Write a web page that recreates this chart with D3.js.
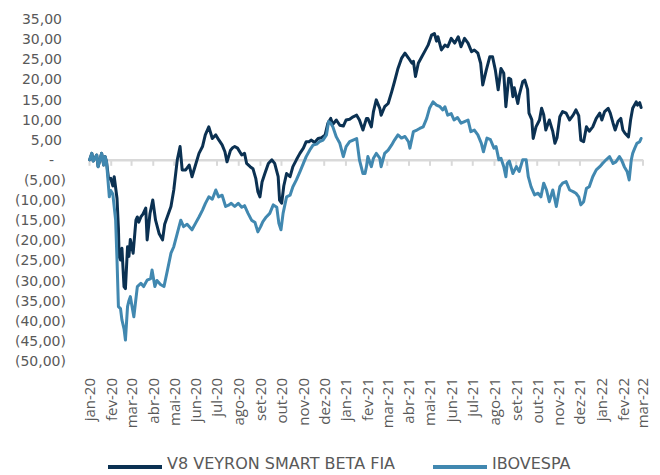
<!DOCTYPE html>
<html><head><meta charset="utf-8">
<script src="https://cdn.jsdelivr.net/npm/d3@7"></script>
<style>body{margin:0;background:#fff} svg{display:block}</style>
</head><body>
<svg id="c" width="660" height="475"></svg>
<script>
const monthLabels = ["jan","fev","mar","abr","mai","jun","jul","ago","set","out","nov","dez"];
const yTickValues = [35,30,25,20,15,10,5,0,-5,-10,-15,-20,-25,-30,-35,-40,-45,-50];
const seriesNames = ["V8 VEYRON SMART BETA FIA","IBOVESPA"];
const seriesColors = ["#0b3152","#4188b0"];

const v8Dates = ["2020-01-02","2020-01-05","2020-01-07","2020-01-12","2020-01-14","2020-01-17","2020-01-19","2020-01-22","2020-01-24","2020-01-26","2020-01-29","2020-02-01","2020-02-04","2020-02-06","2020-02-10","2020-02-12","2020-02-13","2020-02-15","2020-02-17","2020-02-20","2020-02-22","2020-02-25","2020-02-27","2020-02-29","2020-03-04","2020-03-08","2020-03-10","2020-03-12","2020-03-15","2020-03-18","2020-03-22","2020-03-24","2020-03-28","2020-04-01","2020-04-05","2020-04-10","2020-04-15","2020-04-18","2020-04-20","2020-04-27","2020-05-01","2020-05-06","2020-05-10","2020-05-13","2020-05-18","2020-05-23","2020-05-27","2020-06-01","2020-06-06","2020-06-11","2020-06-15","2020-06-20","2020-06-25","2020-06-30","2020-07-04","2020-07-09","2020-07-13","2020-07-16","2020-07-21","2020-07-24","2020-07-27","2020-07-31","2020-08-06","2020-08-10","2020-08-13","2020-08-18","2020-08-22","2020-08-26","2020-08-29","2020-09-01","2020-09-04","2020-09-08","2020-09-13","2020-09-18","2020-09-22","2020-09-27","2020-09-29","2020-10-02","2020-10-05","2020-10-09","2020-10-14","2020-10-18","2020-10-23","2020-10-28","2020-11-02","2020-11-06","2020-11-10","2020-11-13","2020-11-18","2020-11-23","2020-11-28","2020-12-03","2020-12-07","2020-12-11","2020-12-14","2020-12-19","2020-12-24","2020-12-29","2021-01-02","2021-01-07","2021-01-12","2021-01-17","2021-01-21","2021-01-26","2021-01-31","2021-02-02","2021-02-07","2021-02-10","2021-02-14","2021-02-19","2021-02-21","2021-02-26","2021-03-03","2021-03-08","2021-03-12","2021-03-17","2021-03-22","2021-03-27","2021-04-01","2021-04-06","2021-04-08","2021-04-11","2021-04-15","2021-04-20","2021-04-24","2021-04-29","2021-05-04","2021-05-08","2021-05-11","2021-05-13","2021-05-18","2021-05-23","2021-05-27","2021-06-01","2021-06-06","2021-06-11","2021-06-15","2021-06-20","2021-06-25","2021-06-30","2021-07-04","2021-07-09","2021-07-13","2021-07-16","2021-07-21","2021-07-26","2021-07-30","2021-08-03","2021-08-07","2021-08-11","2021-08-15","2021-08-18","2021-08-22","2021-08-25","2021-08-28","2021-08-30","2021-09-04","2021-09-06","2021-09-11","2021-09-14","2021-09-18","2021-09-20","2021-09-24","2021-09-26","2021-09-30","2021-10-05","2021-10-08","2021-10-11","2021-10-14","2021-10-19","2021-10-24","2021-10-27","2021-10-30","2021-11-03","2021-11-07","2021-11-12","2021-11-17","2021-11-22","2021-11-26","2021-11-30","2021-12-03","2021-12-07","2021-12-11","2021-12-15","2021-12-20","2021-12-25","2021-12-30","2022-01-02","2022-01-06","2022-01-11","2022-01-14","2022-01-18","2022-01-21","2022-01-25","2022-01-29","2022-02-01","2022-02-04","2022-02-09","2022-02-12","2022-02-15","2022-02-20","2022-02-22","2022-02-25","2022-02-27"];
const v8Values = [0,1.6,-0.3,1.2,-1.7,0.3,1.6,-1.3,0.8,-0.5,-4.8,-4.6,-6.5,-4.2,-9.6,-17,-24,-24.9,-22,-31.5,-32,-21.6,-24,-19.8,-23.2,-15,-14.2,-15.5,-14.2,-13.5,-12,-19.9,-13.4,-10,-15,-18.3,-19.9,-16,-15,-11.6,-7.5,0,3.3,-2.5,-2.5,-1.3,-4.2,-1.3,1.6,3.3,6.2,8.2,5.3,6.2,5,3.7,2.0,-0.5,2.4,3.0,3.3,2.9,1.2,1.6,-0.9,-1.7,-2.2,-4.6,-7.9,-9.2,-5.5,-3.4,-0.9,0,-0.9,-4.2,-10,-10.8,-6.5,-3.4,-4.2,-1.7,0,1.6,2.9,4.5,4.5,4.9,4.3,5.3,5.5,6.2,9.1,10.3,8.8,9.9,8.6,8.4,9.9,10.1,10.7,11.1,9.9,7.4,10.3,10.3,8.2,12,14.9,12.8,11.1,13.2,14,16.9,19.4,22.7,25.2,26.5,25.3,24,24.5,20.7,24,25.6,26.9,28.5,31,31.4,29.5,30.6,27.3,28.5,28.1,30.2,29,30.6,28.1,30.2,29,26.9,27.3,26.5,24,18.6,22.3,25.6,25.6,22.3,17.4,22.7,21.5,13.2,20.3,20,15.7,17.9,14,16,19.4,19.8,17.5,11.6,10,5.3,8.2,9.9,12.8,11.2,7.4,9.9,7,4.1,5.5,10.7,12,11.6,9.9,11.1,12.4,11,4.9,4.5,8.2,7.1,8.2,10.3,11.6,9.9,12,12.8,11.6,9.1,7.4,9.5,10.3,7.4,6.6,5.7,9.9,12.8,14.4,13.6,14.2,13];

const ibovDates = ["2020-01-02","2020-01-05","2020-01-07","2020-01-12","2020-01-14","2020-01-17","2020-01-19","2020-01-22","2020-01-24","2020-01-26","2020-01-30","2020-02-01","2020-02-04","2020-02-08","2020-02-10","2020-02-12","2020-02-15","2020-02-17","2020-02-20","2020-02-22","2020-02-25","2020-02-27","2020-02-29","2020-03-05","2020-03-10","2020-03-15","2020-03-19","2020-03-24","2020-03-29","2020-03-31","2020-04-04","2020-04-07","2020-04-12","2020-04-17","2020-04-22","2020-04-27","2020-05-01","2020-05-06","2020-05-11","2020-05-15","2020-05-20","2020-05-27","2020-06-01","2020-06-06","2020-06-11","2020-06-15","2020-06-20","2020-06-25","2020-06-30","2020-07-04","2020-07-09","2020-07-14","2020-07-19","2020-07-22","2020-07-27","2020-08-01","2020-08-06","2020-08-10","2020-08-15","2020-08-20","2020-08-25","2020-08-29","2020-09-02","2020-09-05","2020-09-10","2020-09-15","2020-09-20","2020-09-25","2020-09-28","2020-10-01","2020-10-04","2020-10-09","2020-10-14","2020-10-18","2020-10-23","2020-10-28","2020-11-02","2020-11-06","2020-11-11","2020-11-16","2020-11-21","2020-11-25","2020-11-30","2020-12-05","2020-12-08","2020-12-11","2020-12-14","2020-12-19","2020-12-24","2020-12-29","2021-01-02","2021-01-07","2021-01-12","2021-01-17","2021-01-21","2021-01-26","2021-01-29","2021-01-31","2021-02-02","2021-02-07","2021-02-10","2021-02-14","2021-02-19","2021-02-21","2021-02-26","2021-03-03","2021-03-08","2021-03-12","2021-03-17","2021-03-22","2021-03-27","2021-04-01","2021-04-03","2021-04-08","2021-04-13","2021-04-17","2021-04-22","2021-04-27","2021-05-01","2021-05-06","2021-05-11","2021-05-16","2021-05-20","2021-05-23","2021-05-27","2021-06-01","2021-06-05","2021-06-10","2021-06-15","2021-06-20","2021-06-25","2021-06-29","2021-07-04","2021-07-09","2021-07-14","2021-07-17","2021-07-22","2021-07-27","2021-08-01","2021-08-04","2021-08-08","2021-08-11","2021-08-15","2021-08-18","2021-08-20","2021-08-23","2021-08-28","2021-09-02","2021-09-06","2021-09-11","2021-09-16","2021-09-19","2021-09-23","2021-09-28","2021-10-03","2021-10-07","2021-10-11","2021-10-15","2021-10-19","2021-10-24","2021-10-29","2021-11-03","2021-11-07","2021-11-12","2021-11-17","2021-11-22","2021-11-26","2021-11-30","2021-12-03","2021-12-07","2021-12-11","2021-12-15","2021-12-20","2021-12-25","2021-12-30","2022-01-03","2022-01-08","2022-01-13","2022-01-18","2022-01-22","2022-01-27","2022-01-30","2022-02-03","2022-02-07","2022-02-10","2022-02-13","2022-02-15","2022-02-18","2022-02-21","2022-02-25","2022-02-27"];
const ibovValues = [0,1.6,-0.3,1.2,-1.7,0.3,1.6,-1.3,0.8,-0.5,-9.2,-7.6,-8.5,-15,-25,-36.5,-37,-39.8,-42,-44.8,-36.5,-35,-34,-39,-31.5,-30.7,-31.5,-29.9,-29.5,-27.4,-31.5,-30,-31,-31.5,-27.4,-23.2,-21.6,-18.3,-15,-16.6,-16,-17.4,-15.8,-14.2,-12.5,-10.9,-9.2,-9.8,-7.5,-9.2,-8.8,-11.6,-11.2,-10.8,-11.6,-10.8,-11.8,-11.4,-13.3,-15,-15.6,-17.9,-16.6,-15.4,-14.2,-13.3,-11.2,-11.8,-15.8,-17.4,-13.3,-9.2,-8.8,-6.7,-5,-3,-0.9,0.8,2.4,3.7,3.9,4.5,4.9,6.2,9.5,9.1,8.2,5.7,4.1,0.8,3.3,4.5,4.9,5.3,0,-3.4,-3.4,-1.7,0.8,-1.7,0.4,1.6,0.4,-1.7,1.6,2.4,3.7,4.9,6.2,5.4,5.8,4.5,2.9,7,7.4,7.8,8.2,10.3,12.8,14.4,13.6,13.2,12.4,13.2,11.1,11.5,9.9,10.5,9.1,9.5,9.9,7,7.4,6.2,4.1,2,5.4,5,2.9,3.3,0,0.4,-1.7,-4.2,-0.9,-0.3,-3.4,-1.7,-2.9,0,0,-4.2,-6.7,-8.7,-8.3,-9.2,-5.8,-7.5,-10.4,-7.5,-11.6,-6.7,-5.8,-5.4,-7.5,-7.9,-8.3,-9.2,-11.2,-10.4,-7.1,-6.7,-4.2,-2.5,-1.7,-0.9,0,0.8,-0.9,-0.5,0.8,0,-1.7,-2.9,-5,0,1.6,2.9,4.1,4.5,5.3];

const parse = d3.utcParse("%Y-%m-%d");
const series = [
  {name: seriesNames[0], color: seriesColors[0], data: v8Dates.map((d,i)=>({date: parse(d), value: v8Values[i]}))},
  {name: seriesNames[1], color: seriesColors[1], data: ibovDates.map((d,i)=>({date: parse(d), value: ibovValues[i]}))}
];

const svg = d3.select("#c");
const x = d3.scaleUtc().domain([parse("2020-01-01"), parse("2022-03-01")]).range([89, 642.5]);
const y = d3.scaleLinear().domain([-50, 35]).range([361, 19]);

// zero axis line with month ticks
const zeroAxis = svg.append("g").attr("transform", `translate(0,${y(0)})`)
  .call(d3.axisBottom(x).ticks(d3.utcMonth.every(1)).tickSize(6).tickSizeOuter(0).tickFormat(""));
zeroAxis.select(".domain").attr("stroke", "#d9d9d9").attr("stroke-width", 2.5);
zeroAxis.selectAll(".tick line").attr("stroke", "#d9d9d9").attr("stroke-width", 2);

// month labels at bottom
const labelAxis = svg.append("g").attr("transform", "translate(0,378)")
  .call(d3.axisBottom(x).ticks(d3.utcMonth.every(1)).tickSize(0)
    .tickFormat(d => monthLabels[d.getUTCMonth()] + "-" + String(d.getUTCFullYear()).slice(2)));
labelAxis.select(".domain").remove();
labelAxis.selectAll("text")
  .attr("transform", "rotate(-90)").attr("x", 0).attr("y", 0).attr("dy", "0.36em")
  .attr("text-anchor", "end")
  .attr("font-family", "'Open Sans', sans-serif").attr("font-size", 15).attr("fill", "#595959");

// y labels
const fmt = d3.format(".2f");
svg.append("g").selectAll("text").data(yTickValues).join("text")
  .attr("x", v => v < 0 ? 66 : (v > 0 ? 62 : 54))
  .attr("y", v => y(v)).attr("dy", "0.36em")
  .attr("text-anchor", "end")
  .attr("font-family", "'DejaVu Sans', sans-serif").attr("font-size", 14).attr("fill", "#595959")
  .text(v => v === 0 ? "-" : (v < 0 ? "(" + fmt(-v).replace(".", ",") + ")" : fmt(v).replace(".", ",")));

// lines
const line = d3.line().x(d => x(d.date)).y(d => y(d.value));
svg.append("g").selectAll("path").data(series).join("path")
  .attr("d", s => line(s.data))
  .attr("fill", "none").attr("stroke", s => s.color).attr("stroke-width", 3)
  .attr("stroke-linejoin", "round").attr("stroke-linecap", "round");

// legend
const legendX = [108, 433];
const lg = svg.append("g").selectAll("g").data(series).join("g")
  .attr("transform", (s, i) => `translate(${legendX[i]},467)`);
lg.append("line").attr("x1", 0).attr("x2", 54).attr("y1", 0).attr("y2", 0)
  .attr("stroke", s => s.color).attr("stroke-width", 4);
lg.append("text").attr("x", 59).attr("y", 2)
  .attr("font-family", "'DejaVu Sans', sans-serif").attr("font-size", 16).attr("fill", "#595959")
  .text(s => s.name);
</script>
</body></html>
